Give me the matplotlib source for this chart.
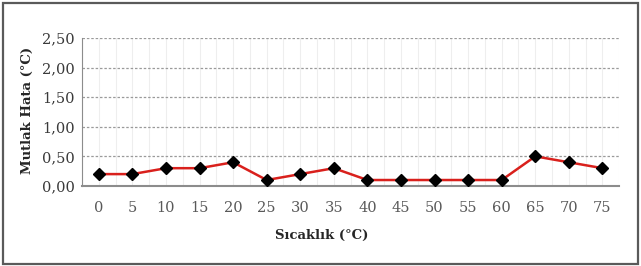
import matplotlib
matplotlib.use("Agg")
import matplotlib.pyplot as plt
from matplotlib.patches import Rectangle
import numpy as np

# Data
temps = ["0", "5", "10", "15", "20", "25", "30", "35", "40", "45",
         "50", "55", "60", "65", "70", "75"]
abs_error = [0.2, 0.2, 0.3, 0.3, 0.4, 0.1, 0.2, 0.3, 0.1, 0.1,
             0.1, 0.1, 0.1, 0.5, 0.4, 0.3]
y_ticks = [0.0, 0.5, 1.0, 1.5, 2.0, 2.5]
y_tick_labels = ["0,00", "0,50", "1,00", "1,50", "2,00", "2,50"]

plt.rcParams["font.family"] = ["DejaVu Serif"]

fig = plt.figure(figsize=(6.41, 2.66), dpi=100)
ax = fig.add_axes([0.128, 0.301, 0.838, 0.556])

x = np.arange(len(temps))

# faint vertical grid every half category
for v in np.arange(-0.5, len(temps), 0.5):
    ax.axvline(v, color="#eeeeee", lw=0.8, zorder=0)
for yt in y_ticks[1:]:
    ax.axhline(yt, color="#9a9a9a", lw=0.9, ls=(0, (2, 1.5)), zorder=1)

ax.plot(x, abs_error, color="#d9201c", lw=1.8, zorder=3)
ax.plot(x, abs_error, ls="none", marker="D", ms=6.5, color="black", zorder=4)

ax.set_xlim(-0.5, len(temps) - 0.5)
ax.set_ylim(0, 2.5)
ax.set_xticks(x)
ax.set_xticklabels(temps)
ax.set_yticks(y_ticks)
ax.set_yticklabels(y_tick_labels)
ax.tick_params(axis="both", length=0, labelsize=10.5)
ax.tick_params(axis="x", pad=11, labelcolor="#595959")
ax.tick_params(axis="y", pad=5, labelcolor="#3a3a3a")

for s in ["top", "right"]:
    ax.spines[s].set_visible(False)
ax.spines["left"].set_color("#8c8c8c")
ax.spines["bottom"].set_color("#8c8c8c")
ax.spines["bottom"].set_linewidth(1.5)

fig.text(0.043, 0.583, "Mutlak Hata (°C)", fontsize=9.5, fontweight="bold",
         color="#262626", ha="center", va="center", rotation=90)
fig.text(0.502, 0.115, "Sıcaklık (°C)", fontsize=9.5, fontweight="bold",
         color="#262626", ha="center", va="center")

# outer frame
fig.patches.append(Rectangle((0.004, 0.008), 0.991, 0.98, transform=fig.transFigure,
                             fill=False, edgecolor="#5a5a5a", lw=1.6))

fig.savefig("out.png", dpi=100)
